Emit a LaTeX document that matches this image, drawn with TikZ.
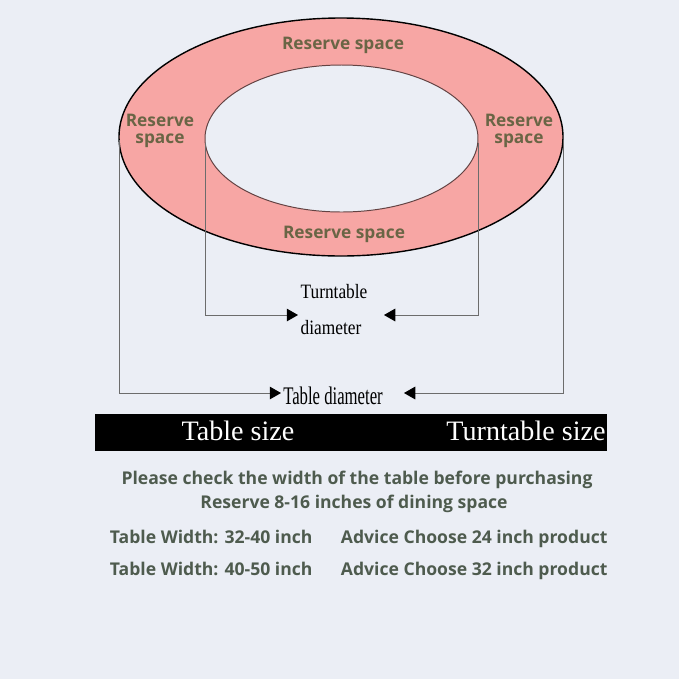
\documentclass[tikz,border=0pt]{standalone}
\usepackage{fontspec}
\setmainfont{Liberation Serif}
\newfontfamily\labelfont{Open Sans}
\newfontfamily\narrowserif{Liberation Serif}[FakeStretch=0.85]
\newfontfamily\slimserif{Liberation Serif}[FakeStretch=0.66]
\usetikzlibrary{positioning, arrows.meta}
\definecolor{bgpaper}{HTML}{EBEEF5}
\definecolor{ringpink}{HTML}{F7A6A4}
\definecolor{olivetext}{HTML}{6A6545}
\definecolor{notegreen}{HTML}{4E5B4E}
\tikzset{
	ring/.style={draw=black, line width=1pt, fill=ringpink},
	hole/.style={draw=ringpink!40!black, line width=.7pt, fill=bgpaper},
	dimline/.style={draw=gray!85!black, line width=.6pt},
	dimarrow/.style={dimline, -{Triangle[length=8pt, width=9pt, color=black]}},
	reserve/.style={font=\labelfont\bfseries\fontsize{12.3}{12.5}\selectfont, text=olivetext, align=center},
	dimtext/.style={font=\narrowserif\fontsize{14.5}{16}\selectfont},
	tabletext/.style={font=\slimserif\fontsize{18}{20}\selectfont},
	barbox/.style={fill=black, draw=black},
	bartext/.style={font=\fontsize{20}{22}\selectfont, text=white},
	note/.style={font=\labelfont\bfseries\fontsize{12.5}{14}\selectfont, text=notegreen}
}

\begin{document}
\begin{tikzpicture}[x=0.025cm, y=-0.025cm]
\fill [bgpaper] (0,0) rectangle (679,679);
\useasboundingbox (0,0) rectangle (679,679);
\coordinate (c) at (341,137);
\coordinate (outerW) at (119,140);
\coordinate (outerE) at (563,140);
\coordinate (innerW) at (205,143);
\coordinate (innerE) at (478,143);
\coordinate (tdimL) at (281,393);
\coordinate (tdimR) at (404,393);
\coordinate (rdimL) at (298,315);
\coordinate (rdimR) at (384,315);

% table top with the turntable
\draw [ring] (c) ellipse [x radius=222, y radius=119];
\draw [hole] (341.5,138.5) ellipse [x radius=136.5, y radius=73.5];

\node [reserve] (rtop) at (343,45) {Reserve space};
\node [reserve] (rbot) at (344,234) {Reserve space};
\node [reserve] (rleft) at (160,131) {Reserve\\space};
\node [reserve] (rright) at (519,131) {Reserve\\space};

% dimension lines
\draw [dimarrow] (outerW) |- (tdimL);
\draw [dimarrow] (outerE) |- (tdimR);
\draw [dimarrow] (innerW) |- (rdimL);
\draw [dimarrow] (innerE) |- (rdimR);

\node [dimtext] (turn) at (334,292) {Turntable};
\node [dimtext] (diam) at (331,328) {diameter};
\node [tabletext] (tdiam) at (333,396) {Table diameter};

% size bar
\node [barbox, minimum width=511*0.025cm, minimum height=36*0.025cm, inner sep=0pt] (bar) at (350.5,432) {};
\node [bartext] (tsize) at (238,431) {Table size};
\node [bartext] (rsize) at (526,431) {Turntable size};

\node [note] (check) at (357,480) {Please check the width of the table before purchasing};
\node [note] (space) at (354,504) {Reserve 8-16 inches of dining space};
\node [note, anchor=base west] (w1) at (105,543) {Table Width: 32-40 inch};
\node [note, anchor=base west] (a1) at (336,543) {Advice Choose 24 inch product};
\node [note, anchor=base west] (w2) at (105,575) {Table Width: 40-50 inch};
\node [note, anchor=base west] (a2) at (336,575) {Advice Choose 32 inch product};
\end{tikzpicture}
\end{document}
